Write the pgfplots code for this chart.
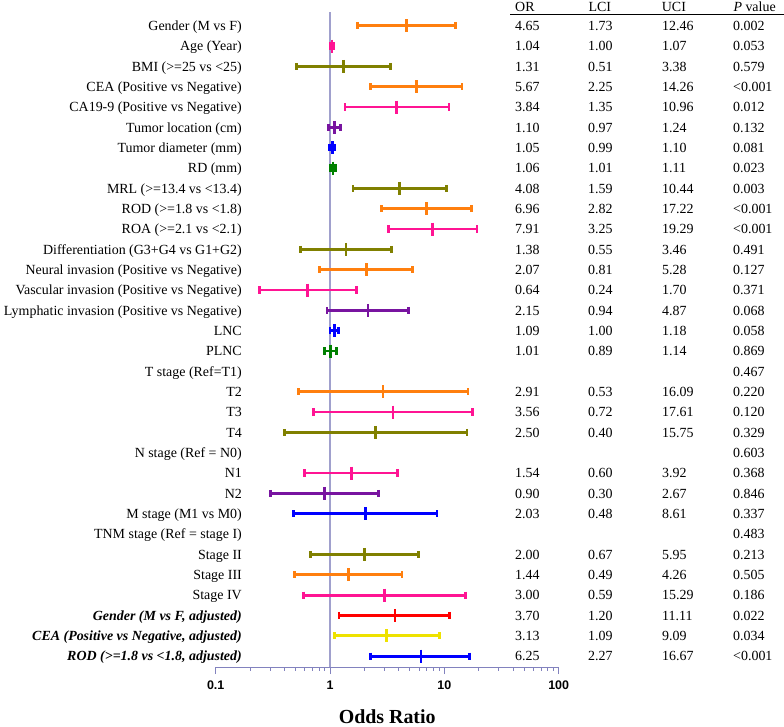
\documentclass[border=0pt]{standalone}
\usepackage{pgfplots}
\pgfplotsset{compat=1.18}
\usepackage{fontspec}
\setmainfont{Liberation Serif}
\setsansfont{Liberation Sans}

\definecolor{axisc}{RGB}{130,130,190}
\definecolor{vlinec}{RGB}{160,160,205}
\definecolor{cor}{RGB}{255,127,14}
\definecolor{cpk}{RGB}{255,20,147}
\definecolor{col}{RGB}{128,128,0}
\definecolor{cpu}{RGB}{120,20,160}
\definecolor{cbl}{RGB}{0,0,255}
\definecolor{cgr}{RGB}{0,128,0}
\definecolor{crd}{RGB}{255,0,0}
\definecolor{cye}{RGB}{238,226,0}

\newcommand{\fpbar}[5]{%
\addplot[#1, line width=2.8bp, mark=|, mark size=3.6bp, mark options={solid,line width=2.8bp}] coordinates {(#3,#2) (#4,#2)};
\addplot[#1, only marks, mark=|, mark size=6.5bp, mark options={line width=2.8bp}] coordinates {(#5,#2)};
}
\newcommand{\rowtext}[6]{%
\node[lab] at ([xshift=26.3bp]axis cs:0.1,#1) {#2};
\node[num] at ([xshift=299.3bp]axis cs:0.1,#1) {#3};
\node[num] at ([xshift=372.3bp]axis cs:0.1,#1) {#4};
\node[num] at ([xshift=446.3bp]axis cs:0.1,#1) {#5};
\node[num] at ([xshift=517.3bp]axis cs:0.1,#1) {#6};
}

\begin{document}
\begin{tikzpicture}[
  lab/.style={anchor=base east, inner sep=0pt, yshift=-4.7bp, font=\fontsize{14}{16}\selectfont},
  num/.style={anchor=base west, inner sep=0pt, yshift=-4.7bp, font=\fontsize{14}{16}\selectfont}]
\useasboundingbox (0,0) rectangle (784bp,727bp);
\begin{axis}[
  at={(215.7bp,59.7bp)}, anchor=south west,
  scale only axis, width=343bp, height=655.6bp,
  xmode=log, xmin=0.1, xmax=100, ymin=-31.55, ymax=0.69,
  axis x line=bottom, axis y line=none,
  x axis line style={-, draw=axisc, line width=0.9bp},
  xtick={0.1,1,10,100}, xticklabels={0.1,1,10,100},
  minor xtick={0.2,0.3,0.4,0.5,0.6,0.7,0.8,0.9,2,3,4,5,6,7,8,9,20,30,40,50,60,70,80,90},
  tick align=outside, major tick length=6.7bp, minor tick length=3.3bp,
  tick style={axisc, line width=0.9bp},
  xticklabel style={font=\sffamily\bfseries\fontsize{12.5}{14}\selectfont, yshift=-3bp},
  clip=false,
]
\addplot[vlinec, line width=1.3bp] coordinates {(1,-31.55) (1,0.69)};

\fpbar{cor}{0}{1.73}{12.46}{4.65}
\fpbar{cpk}{-1}{1.00}{1.07}{1.04}
\fpbar{col}{-2}{0.51}{3.38}{1.31}
\fpbar{cor}{-3}{2.25}{14.26}{5.67}
\fpbar{cpk}{-4}{1.35}{10.96}{3.84}
\fpbar{cpu}{-5}{0.97}{1.24}{1.10}
\fpbar{cbl}{-6}{0.99}{1.10}{1.05}
\fpbar{cgr}{-7}{1.01}{1.11}{1.06}
\fpbar{col}{-8}{1.59}{10.44}{4.08}
\fpbar{cor}{-9}{2.82}{17.22}{6.96}
\fpbar{cpk}{-10}{3.25}{19.29}{7.91}
\fpbar{col}{-11}{0.55}{3.46}{1.38}
\fpbar{cor}{-12}{0.81}{5.28}{2.07}
\fpbar{cpk}{-13}{0.24}{1.70}{0.64}
\fpbar{cpu}{-14}{0.94}{4.87}{2.15}
\fpbar{cbl}{-15}{1.00}{1.18}{1.09}
\fpbar{cgr}{-16}{0.89}{1.14}{1.01}
\fpbar{cor}{-18}{0.53}{16.09}{2.91}
\fpbar{cpk}{-19}{0.72}{17.61}{3.56}
\fpbar{col}{-20}{0.40}{15.75}{2.50}
\fpbar{cpk}{-22}{0.60}{3.92}{1.54}
\fpbar{cpu}{-23}{0.30}{2.67}{0.90}
\fpbar{cbl}{-24}{0.48}{8.61}{2.03}
\fpbar{col}{-26}{0.67}{5.95}{2.00}
\fpbar{cor}{-27}{0.49}{4.26}{1.44}
\fpbar{cpk}{-28}{0.59}{15.29}{3.00}
\fpbar{crd}{-29}{1.20}{11.11}{3.70}
\fpbar{cye}{-30}{1.09}{9.09}{3.13}
\fpbar{cbl}{-31}{2.27}{16.67}{6.25}

\rowtext{0}{Gender (M vs F)}{4.65}{1.73}{12.46}{0.002}
\rowtext{-1}{Age (Year)}{1.04}{1.00}{1.07}{0.053}
\rowtext{-2}{BMI (>=25 vs <25)}{1.31}{0.51}{3.38}{0.579}
\rowtext{-3}{CEA (Positive vs Negative)}{5.67}{2.25}{14.26}{<0.001}
\rowtext{-4}{CA19-9 (Positive vs Negative)}{3.84}{1.35}{10.96}{0.012}
\rowtext{-5}{Tumor location (cm)}{1.10}{0.97}{1.24}{0.132}
\rowtext{-6}{Tumor diameter (mm)}{1.05}{0.99}{1.10}{0.081}
\rowtext{-7}{RD (mm)}{1.06}{1.01}{1.11}{0.023}
\rowtext{-8}{MRL (>=13.4 vs <13.4)}{4.08}{1.59}{10.44}{0.003}
\rowtext{-9}{ROD (>=1.8 vs <1.8)}{6.96}{2.82}{17.22}{<0.001}
\rowtext{-10}{ROA (>=2.1 vs <2.1)}{7.91}{3.25}{19.29}{<0.001}
\rowtext{-11}{Differentiation (G3+G4 vs G1+G2)}{1.38}{0.55}{3.46}{0.491}
\rowtext{-12}{Neural invasion (Positive vs Negative)}{2.07}{0.81}{5.28}{0.127}
\rowtext{-13}{Vascular invasion (Positive vs Negative)}{0.64}{0.24}{1.70}{0.371}
\rowtext{-14}{Lymphatic invasion (Positive vs Negative)}{2.15}{0.94}{4.87}{0.068}
\rowtext{-15}{LNC}{1.09}{1.00}{1.18}{0.058}
\rowtext{-16}{PLNC}{1.01}{0.89}{1.14}{0.869}
\rowtext{-17}{T stage (Ref=T1)}{}{}{}{0.467}
\rowtext{-18}{T2}{2.91}{0.53}{16.09}{0.220}
\rowtext{-19}{T3}{3.56}{0.72}{17.61}{0.120}
\rowtext{-20}{T4}{2.50}{0.40}{15.75}{0.329}
\rowtext{-21}{N stage (Ref = N0)}{}{}{}{0.603}
\rowtext{-22}{N1}{1.54}{0.60}{3.92}{0.368}
\rowtext{-23}{N2}{0.90}{0.30}{2.67}{0.846}
\rowtext{-24}{M stage (M1 vs M0)}{2.03}{0.48}{8.61}{0.337}
\rowtext{-25}{TNM stage (Ref = stage I)}{}{}{}{0.483}
\rowtext{-26}{Stage II}{2.00}{0.67}{5.95}{0.213}
\rowtext{-27}{Stage III}{1.44}{0.49}{4.26}{0.505}
\rowtext{-28}{Stage IV}{3.00}{0.59}{15.29}{0.186}
\rowtext{-29}{\textbf{\textit{Gender (M vs F, adjusted)}}}{3.70}{1.20}{11.11}{0.022}
\rowtext{-30}{\textbf{\textit{CEA (Positive vs Negative, adjusted)}}}{3.13}{1.09}{9.09}{0.034}
\rowtext{-31}{\textbf{\textit{ROD (>=1.8 vs <1.8, adjusted)}}}{6.25}{2.27}{16.67}{<0.001}

\node[num] at ([xshift=299.3bp]axis cs:0.1,0.924) {OR};
\node[num] at ([xshift=372.6bp]axis cs:0.1,0.924) {LCI};
\node[num] at ([xshift=446bp]axis cs:0.1,0.924) {UCI};
\node[num] at ([xshift=517.6bp]axis cs:0.1,0.924) {\textit{P} value};
\draw[black, line width=0.7bp] ([xshift=294.3bp]axis cs:0.1,0.555) -- ([xshift=568.3bp]axis cs:0.1,0.555);

\node[anchor=base, inner sep=0pt, font=\bfseries\fontsize{20}{24}\selectfont] at ([yshift=-56.5bp]rel axis cs:0.5,0) {Odds Ratio};
\end{axis}
\end{tikzpicture}
\end{document}
